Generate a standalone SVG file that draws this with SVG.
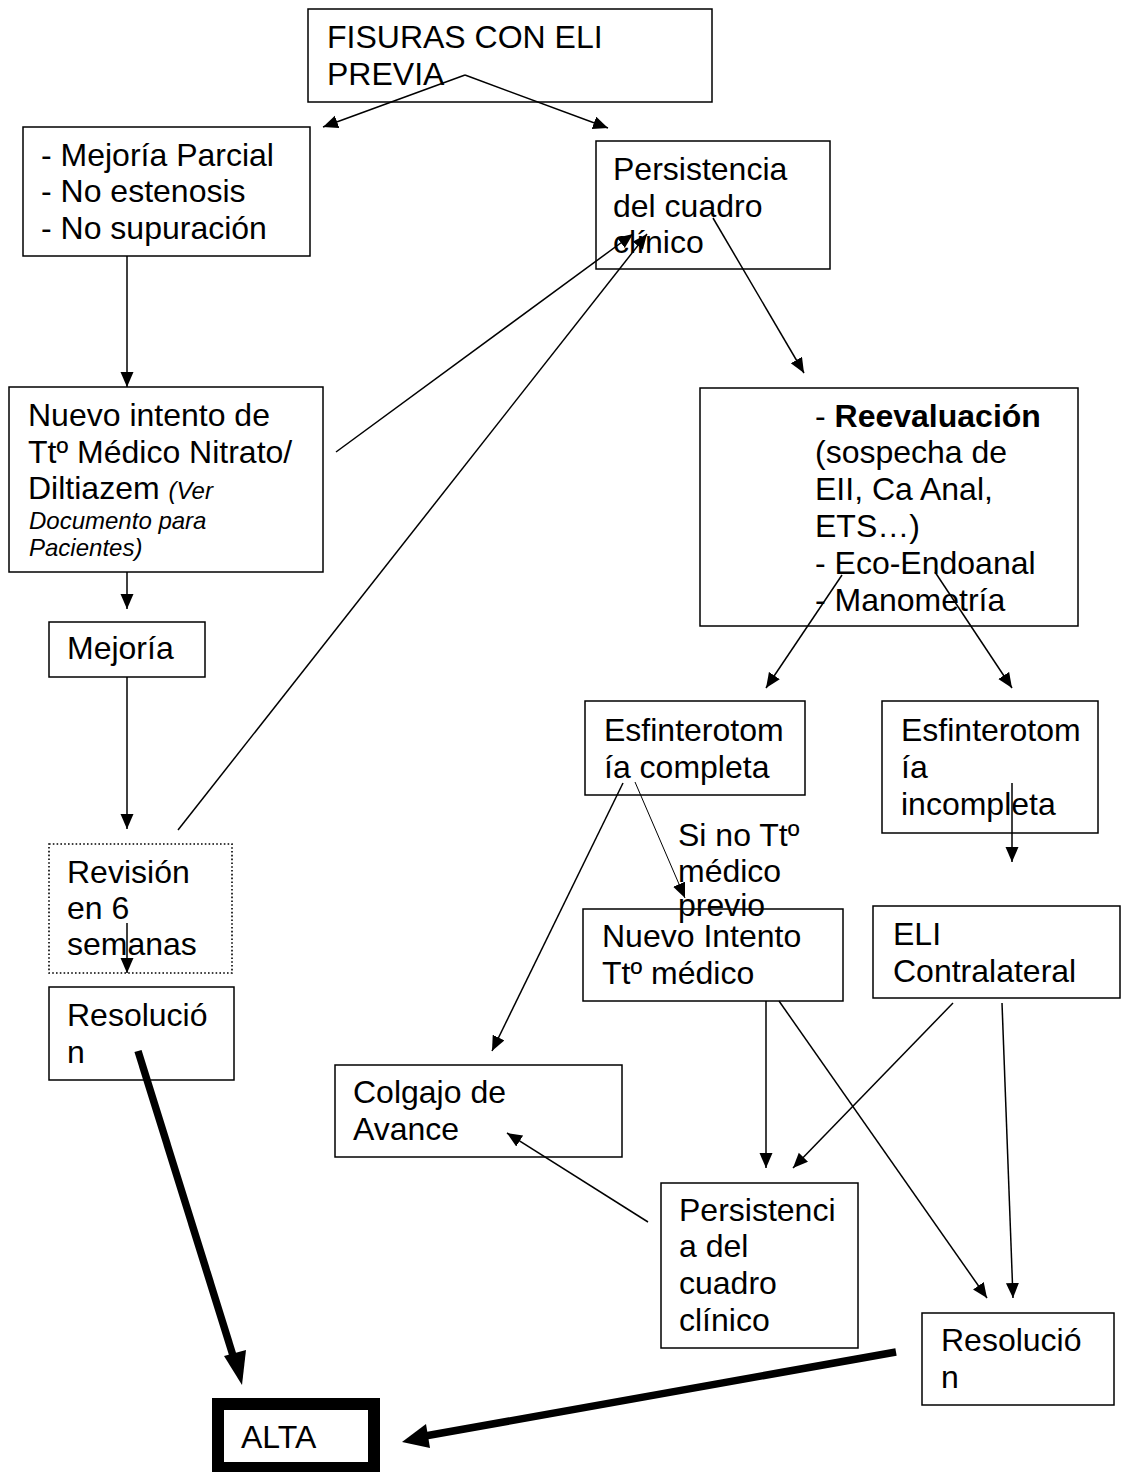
<svg xmlns="http://www.w3.org/2000/svg" width="1128" height="1472" viewBox="0 0 1128 1472">
<style>
  .box{fill:#fff;stroke:#000;stroke-width:1.5}
  .dot{fill:#fff;stroke:#000;stroke-width:1.6;stroke-dasharray:1.6 2.2}
  .t{font-family:"Liberation Sans",Arial,sans-serif;font-size:32px;fill:#000}
  .it{font-family:"Liberation Sans",Arial,sans-serif;font-size:24px;font-style:italic}
  .b{font-weight:bold}
  .ln{stroke:#000;stroke-width:1.5;fill:none;marker-end:url(#ah)}
  .thin{stroke:#000;stroke-width:1;fill:none;marker-end:url(#ah)}
  .thick{stroke:#000;stroke-width:7.5;fill:none}
</style>
<defs>
  <marker id="ah" markerUnits="userSpaceOnUse" markerWidth="16" markerHeight="14" refX="15" refY="6.5" orient="auto">
    <path d="M0,0 L15,6.5 L0,13 z" fill="#000"/>
  </marker>
</defs>
<rect width="1128" height="1472" fill="#fff"/>

<g id="n-fisuras">
  <rect class="box" x="308" y="9" width="404" height="93"/>
  <text class="t"><tspan x="327" y="48">FISURAS CON ELI</tspan><tspan x="327" y="85">PREVIA</tspan></text>
</g>
<g id="n-mejoria-parcial">
  <rect class="box" x="23" y="127" width="287" height="129"/>
  <text class="t"><tspan x="41" y="166">- Mejoría Parcial</tspan><tspan x="41" y="202">- No estenosis</tspan><tspan x="41" y="239">- No supuración</tspan></text>
</g>
<g id="n-persistencia1">
  <rect class="box" x="596" y="141" width="234" height="128"/>
  <text class="t"><tspan x="613" y="180">Persistencia</tspan><tspan x="613" y="217">del cuadro</tspan><tspan x="613" y="253">clínico</tspan></text>
</g>
<g id="n-nuevo-intento">
  <rect class="box" x="9" y="387" width="314" height="185"/>
  <text class="t"><tspan x="28" y="426">Nuevo intento de</tspan><tspan x="28" y="463">Ttº Médico Nitrato/</tspan><tspan x="28" y="499">Diltiazem </tspan><tspan class="it">(Ver</tspan></text>
  <text class="it"><tspan x="29" y="529">Documento para</tspan><tspan x="29" y="556">Pacientes)</tspan></text>
</g>
<g id="n-mejoria">
  <rect class="box" x="49" y="622" width="156" height="55"/>
  <text class="t" x="67" y="659">Mejoría</text>
</g>
<g id="n-revision">
  <rect class="dot" x="49" y="844" width="183" height="129"/>
  <text class="t"><tspan x="67" y="883">Revisión</tspan><tspan x="67" y="919">en 6</tspan><tspan x="67" y="955">semanas</tspan></text>
</g>
<g id="n-resolucion1">
  <rect class="box" x="49" y="987" width="185" height="93"/>
  <text class="t"><tspan x="67" y="1026">Resolució</tspan><tspan x="67" y="1063">n</tspan></text>
</g>
<g id="n-alta">
  <rect x="218" y="1404" width="156" height="64" fill="#fff" stroke="#000" stroke-width="12"/>
  <text class="t" x="241" y="1448">ALTA</text>
</g>
<g id="n-reevaluacion">
  <rect class="box" x="700" y="388" width="378" height="238"/>
  <text class="t"><tspan x="815" y="427">- </tspan><tspan class="b">Reevaluación</tspan><tspan x="815" y="463">(sospecha de</tspan><tspan x="815" y="500">EII, Ca Anal,</tspan><tspan x="815" y="537">ETS…)</tspan><tspan x="815" y="574">- Eco-Endoanal</tspan><tspan x="815" y="611">- Manometría</tspan></text>
</g>
<g id="n-esf-completa">
  <rect class="box" x="585" y="701" width="220" height="94"/>
  <text class="t"><tspan x="604" y="741">Esfinterotom</tspan><tspan x="604" y="778">ía completa</tspan></text>
</g>
<g id="n-esf-incompleta">
  <rect class="box" x="882" y="701" width="216" height="132"/>
  <text class="t"><tspan x="901" y="741">Esfinterotom</tspan><tspan x="901" y="778">ía</tspan><tspan x="901" y="815">incompleta</tspan></text>
</g>
<g id="label-si-no">
  <text class="t"><tspan x="678" y="846">Si no Ttº</tspan><tspan x="678" y="882">médico</tspan><tspan x="678" y="916">previo</tspan></text>
</g>
<g id="n-nuevo-intento2">
  <rect x="583" y="909" width="260" height="92" fill="none" stroke="#000" stroke-width="1.5"/>
  <text class="t"><tspan x="602" y="947">Nuevo Intento</tspan><tspan x="602" y="984">Ttº médico</tspan></text>
</g>
<g id="n-eli-contralateral">
  <rect class="box" x="873" y="906" width="247" height="92"/>
  <text class="t"><tspan x="893" y="945">ELI</tspan><tspan x="893" y="982">Contralateral</tspan></text>
</g>
<g id="n-colgajo">
  <rect class="box" x="335" y="1065" width="287" height="92"/>
  <text class="t"><tspan x="353" y="1103">Colgajo de</tspan><tspan x="353" y="1140">Avance</tspan></text>
</g>
<g id="n-persistencia2">
  <rect class="box" x="661" y="1183" width="197" height="165"/>
  <text class="t"><tspan x="679" y="1221">Persistenci</tspan><tspan x="679" y="1257">a del</tspan><tspan x="679" y="1294">cuadro</tspan><tspan x="679" y="1331">clínico</tspan></text>
</g>
<g id="n-resolucion2">
  <rect class="box" x="922" y="1313" width="192" height="92"/>
  <text class="t"><tspan x="941" y="1351">Resolució</tspan><tspan x="941" y="1388">n</tspan></text>
</g>

<g id="connectors">
  <line class="ln" x1="465" y1="75" x2="323" y2="127"/>
  <line class="ln" x1="465" y1="75" x2="608" y2="128"/>
  <line class="ln" x1="127" y1="256" x2="127" y2="387"/>
  <line class="ln" x1="336" y1="452" x2="633" y2="234"/>
  <line class="ln" x1="178" y1="830" x2="647" y2="234"/>
  <line class="ln" x1="713" y1="218" x2="804" y2="373"/>
  <line class="ln" x1="127" y1="572" x2="127" y2="609"/>
  <line class="ln" x1="127" y1="677" x2="127" y2="829"/>
  <line class="ln" x1="127" y1="923" x2="127" y2="973"/>
  <line class="ln" x1="842" y1="575" x2="766" y2="688"/>
  <line class="ln" x1="935" y1="572" x2="1012" y2="688"/>
  <line class="ln" x1="1012" y1="783" x2="1012" y2="862"/>
  <line class="thin" x1="635" y1="782" x2="685" y2="898"/>
  <line class="ln" x1="623" y1="783" x2="492" y2="1051"/>
  <line class="ln" x1="766" y1="1001" x2="766" y2="1168"/>
  <line class="ln" x1="779" y1="1001" x2="987" y2="1298"/>
  <line class="ln" x1="953" y1="1003" x2="793" y2="1168"/>
  <line class="ln" x1="1002" y1="1003" x2="1013" y2="1298"/>
  <line class="ln" x1="648" y1="1222" x2="507" y2="1133"/>
  <line class="thick" x1="138" y1="1051" x2="235" y2="1362"/>
  <polygon points="242,1385 224,1356 246,1350" fill="#000"/>
  <line class="thick" x1="896" y1="1352" x2="425" y2="1436"/>
  <polygon points="402,1442 426,1424 430,1448" fill="#000"/>
</g>
</svg>
